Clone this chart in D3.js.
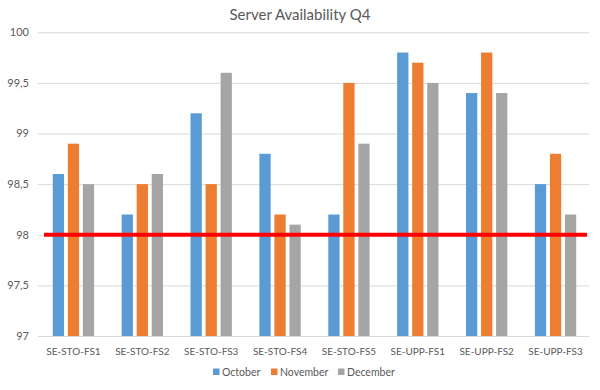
<!DOCTYPE html>
<html><head><meta charset="utf-8">
<script src="https://cdn.jsdelivr.net/npm/d3@7"></script>
<style>body{margin:0;background:#fff}svg{display:block}text{font-family:Lato,"Open Sans",sans-serif;fill:#595959}</style>
</head><body><svg id="c" width="600" height="390"></svg>
<script>
const categories = ["SE-STO-FS1","SE-STO-FS2","SE-STO-FS3","SE-STO-FS4","SE-STO-FS5","SE-UPP-FS1","SE-UPP-FS2","SE-UPP-FS3"];
const seriesNames = ["October","November","December"];
const october  = [98.6, 98.2, 99.2, 98.8, 98.2, 99.8, 99.4, 98.5];
const november = [98.9, 98.5, 98.5, 98.2, 99.5, 99.7, 99.8, 98.8];
const december = [98.5, 98.6, 99.6, 98.1, 98.9, 99.5, 99.4, 98.2];
const yTicks = [97, 97.5, 98, 98.5, 99, 99.5, 100];
const yTickLabels = ["97","97,5","98","98,5","99","99,5","100"];
const threshold = 98;
const colors = ["#5B9BD5","#ED7D31","#A5A5A5"];

const series = [october, november, december];
const svg = d3.select("#c");
const x0 = d3.scaleBand().domain(categories).range([39, 590]).paddingInner(0.4).paddingOuter(0.2);
const x1 = d3.scaleBand().domain(seriesNames).range([0, x0.bandwidth()]).paddingInner(0.25).paddingOuter(0);
const y = d3.scaleLinear().domain([97, 100]).range([336, 32.3]);

// gridlines
svg.append("g").selectAll("line").data(yTicks).join("line")
  .attr("x1", 38).attr("x2", 589)
  .attr("y1", d => y(d)+0.5).attr("y2", d => y(d)+0.5)
  .attr("stroke", "#D9D9D9").attr("stroke-width", 1);

// y labels
svg.append("g").selectAll("text").data(yTicks).join("text")
  .attr("x", 29).attr("y", d => y(d)).attr("dy", "0.35em")
  .attr("text-anchor", "end").attr("font-size", 11)
  .text((d,i) => yTickLabels[i]);

// bars
const g = svg.append("g").selectAll("g").data(categories).join("g")
  .attr("transform", d => `translate(${x0(d)},0)`);
g.selectAll("rect").data((c,i) => seriesNames.map((s,j) => ({s, v: series[j][i], j}))).join("rect")
  .attr("x", d => x1(d.s)).attr("width", x1.bandwidth())
  .attr("y", d => y(d.v)).attr("height", d => y(97) - y(d.v))
  .attr("fill", d => colors[d.j]);

// category labels
svg.append("g").selectAll("text").data(categories).join("text")
  .attr("x", d => x0(d) + x0.bandwidth()/2).attr("y", 355)
  .attr("text-anchor", "middle").attr("font-size", 10)
  .text(d => d);

// threshold line
svg.append("line").attr("x1", 44).attr("x2", 587)
  .attr("y1", y(threshold)).attr("y2", y(threshold))
  .attr("stroke", "#FF0000").attr("stroke-width", 4);

// title
svg.append("text").attr("x", 300).attr("y", 20).attr("text-anchor", "middle")
  .attr("font-size", 15).text("Server Availability Q4");

// legend
const legX = [213, 271, 338];
const lg = svg.append("g").selectAll("g").data(seriesNames).join("g")
  .attr("transform", (d,i) => `translate(${legX[i]},372)`);
lg.append("rect").attr("x", 0).attr("y", -3.5).attr("width", 6.5).attr("height", 6.5).attr("fill", (d,i) => colors[i]);
lg.append("text").attr("x", 9).attr("y", 0).attr("dy", "0.35em").attr("font-size", 10.5).text(d => d);
</script></body></html>
